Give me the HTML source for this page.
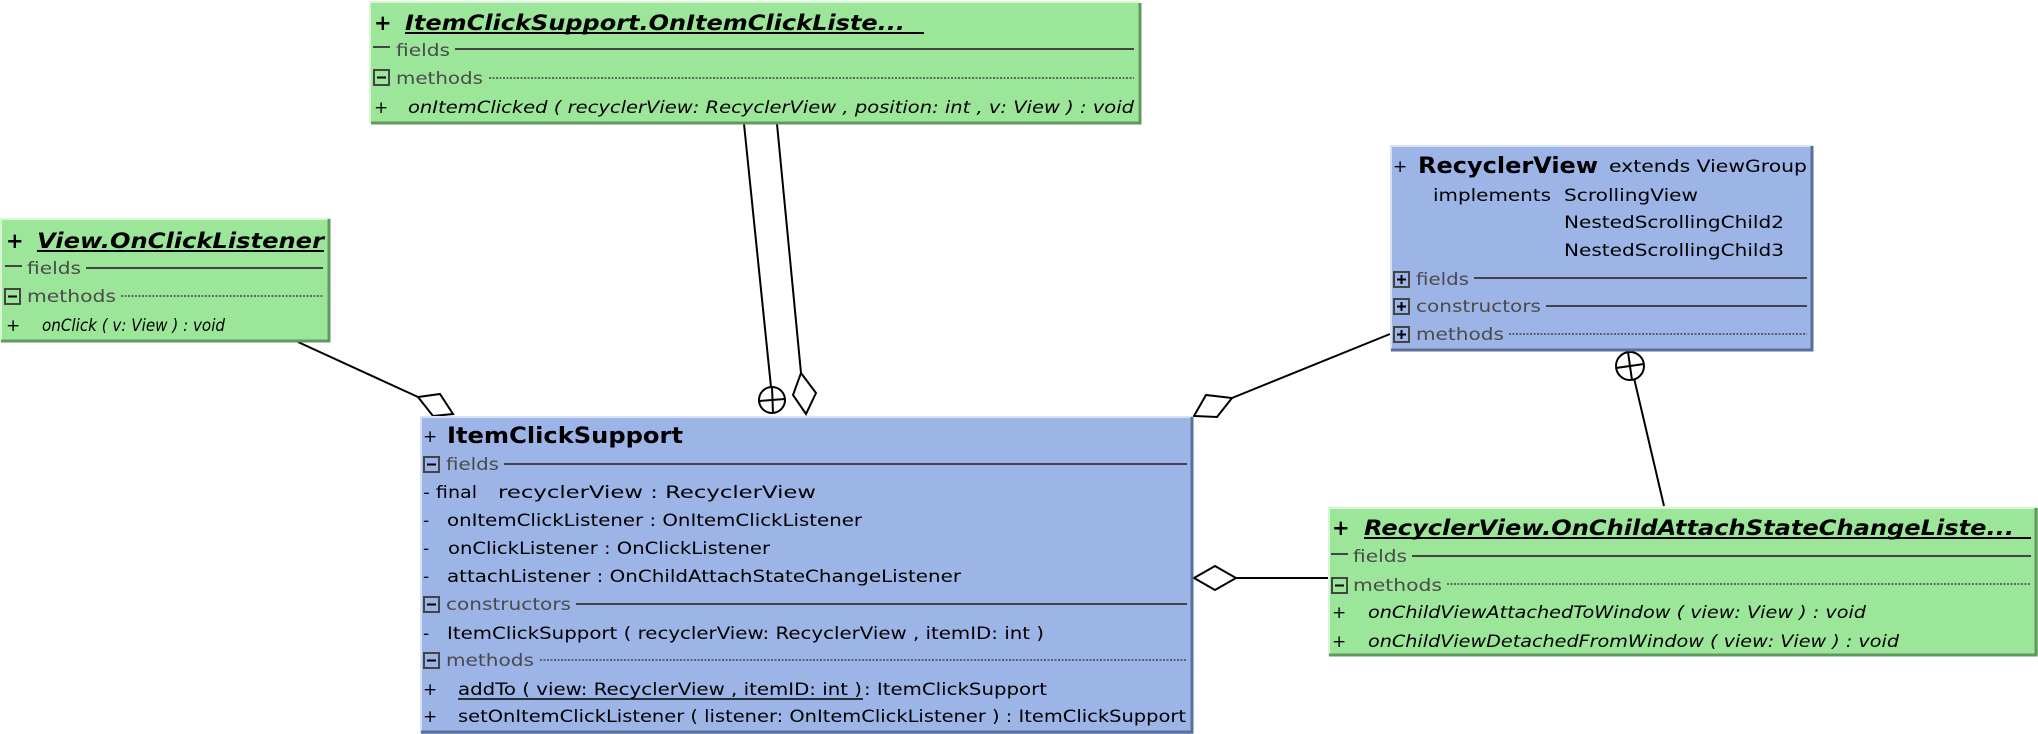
<!DOCTYPE html>
<html><head><meta charset="utf-8"><style>
html,body{margin:0;padding:0;background:#fff;}
svg{display:block;}
text{font-family:"DejaVu Sans","Liberation Sans",sans-serif;font-size:17px;fill:#000;}
.t{font-weight:bold;font-size:22px;}
.ti{font-weight:bold;font-style:italic;font-size:21px;}
.i{font-style:italic;}
.g{fill:#4a4a4a;}
</style></head><body>
<svg width="2038" height="734" viewBox="0 0 2038 734" xmlns="http://www.w3.org/2000/svg">
<!-- connectors -->
<g stroke="#000" stroke-width="2" fill="#fff">
<line x1="298" y1="342" x2="418" y2="397"/>
<polygon points="418,397 440,394 453,414 433,416"/>
<line x1="744" y1="124" x2="771" y2="387"/>
<circle cx="772" cy="400" r="13"/>
<line x1="759" y1="401" x2="785" y2="399"/>
<line x1="772" y1="387" x2="773" y2="413"/>
<line x1="777" y1="124" x2="801" y2="373"/>
<polygon points="801,373 816,393 806,414 793,395"/>
<line x1="1390" y1="334" x2="1232" y2="398"/>
<polygon points="1232,398 1217,417 1194,416 1206,395"/>
<line x1="1664" y1="506" x2="1634" y2="378"/>
<circle cx="1630" cy="366" r="14"/>
<line x1="1616" y1="368" x2="1644" y2="364"/>
<line x1="1628" y1="352" x2="1632" y2="380"/>
<line x1="1328" y1="578" x2="1236" y2="578"/>
<polygon points="1236,578 1215,566 1194,578 1215,590"/>
</g>

<!-- OnItemClickListener box -->
<rect x="370" y="2" width="770" height="121" fill="#9ce69a"/>
<path d="M370,123 V2 H1140" stroke="#d8f5d6" stroke-width="2" fill="none"/>
<path d="M371,123 H1140 V3" stroke="#5f995d" stroke-width="3" fill="none"/>
<text x="374" y="30" class="ti">+</text>
<text x="405" y="30" class="ti" textLength="500" lengthAdjust="spacingAndGlyphs">ItemClickSupport.OnItemClickListe...</text>
<line x1="405" y1="33" x2="924" y2="33" stroke="#000" stroke-width="2"/>
<line x1="373" y1="47" x2="390" y2="47" stroke="#444" stroke-width="2"/>
<text x="396" y="56" class="g" textLength="54" lengthAdjust="spacingAndGlyphs">fields</text>
<line x1="455" y1="49" x2="1134" y2="49" stroke="#444" stroke-width="2"/>
<rect x="374" y="70" width="15" height="15" fill="none" stroke="#444" stroke-width="2"/><line x1="377" y1="77.5" x2="386" y2="77.5" stroke="#000" stroke-width="2"/>
<text x="396" y="84" class="g" textLength="87" lengthAdjust="spacingAndGlyphs">methods</text>
<line x1="489" y1="78" x2="1134" y2="78" stroke="#444" stroke-width="1.5" stroke-dasharray="2,1.5"/>
<text x="374" y="113" class="i">+</text>
<text x="408" y="113" class="i" textLength="726" lengthAdjust="spacingAndGlyphs">onItemClicked ( recyclerView: RecyclerView ,  position: int ,  v: View ) : void</text>

<!-- View.OnClickListener -->
<rect x="0" y="219" width="330" height="123" fill="#9ce69a"/>
<path d="M1,342 V219 H330" stroke="#d8f5d6" stroke-width="2" fill="none"/>
<path d="M1,341 H329 V219" stroke="#5f995d" stroke-width="3" fill="none"/>
<text x="6" y="248" class="ti">+</text>
<text x="37" y="248" class="ti" textLength="287" lengthAdjust="spacingAndGlyphs">View.OnClickListener</text>
<line x1="37" y1="251" x2="324" y2="251" stroke="#000" stroke-width="2"/>
<line x1="5" y1="266" x2="22" y2="266" stroke="#444" stroke-width="2"/>
<text x="27" y="274" class="g" textLength="54" lengthAdjust="spacingAndGlyphs">fields</text>
<line x1="86" y1="268" x2="323" y2="268" stroke="#444" stroke-width="2"/>
<rect x="5" y="289" width="15" height="15" fill="none" stroke="#444" stroke-width="2"/><line x1="8" y1="296.5" x2="17" y2="296.5" stroke="#000" stroke-width="2"/>
<text x="27" y="302" class="g" textLength="89" lengthAdjust="spacingAndGlyphs">methods</text>
<line x1="121" y1="296" x2="323" y2="296" stroke="#444" stroke-width="1.5" stroke-dasharray="2,1.5"/>
<text x="6" y="331" class="i">+</text>
<text x="42" y="331" class="i" textLength="183" lengthAdjust="spacingAndGlyphs">onClick ( v: View ) : void</text>

<!-- ItemClickSupport -->
<rect x="420" y="416" width="773" height="318" fill="#9db4e6"/>
<path d="M421,734 V417 H1193" stroke="#d6e0f6" stroke-width="2" fill="none"/>
<path d="M421,732 H1192 V417" stroke="#5b6f99" stroke-width="3" fill="none"/>
<text x="423" y="442">+</text>
<text x="447" y="443" class="t" textLength="236" lengthAdjust="spacingAndGlyphs">ItemClickSupport</text>
<rect x="424" y="457" width="15" height="15" fill="none" stroke="#444" stroke-width="2"/><line x1="427" y1="464.5" x2="436" y2="464.5" stroke="#000" stroke-width="2"/>
<text x="446" y="470" class="g" textLength="53" lengthAdjust="spacingAndGlyphs">fields</text>
<line x1="504" y1="464" x2="1187" y2="464" stroke="#444" stroke-width="2"/>
<text x="423" y="498" textLength="54" lengthAdjust="spacingAndGlyphs">- final</text>
<text x="498" y="498" textLength="318" lengthAdjust="spacingAndGlyphs">recyclerView : RecyclerView</text>
<text x="423" y="526">-</text>
<text x="447" y="526" textLength="415" lengthAdjust="spacingAndGlyphs">onItemClickListener : OnItemClickListener</text>
<text x="423" y="554">-</text>
<text x="448" y="554" textLength="322" lengthAdjust="spacingAndGlyphs">onClickListener : OnClickListener</text>
<text x="423" y="582">-</text>
<text x="447" y="582" textLength="514" lengthAdjust="spacingAndGlyphs">attachListener : OnChildAttachStateChangeListener</text>
<rect x="424" y="597" width="15" height="15" fill="none" stroke="#444" stroke-width="2"/><line x1="427" y1="604.5" x2="436" y2="604.5" stroke="#000" stroke-width="2"/>
<text x="446" y="610" class="g" textLength="125" lengthAdjust="spacingAndGlyphs">constructors</text>
<line x1="576" y1="604" x2="1187" y2="604" stroke="#444" stroke-width="2"/>
<text x="423" y="639">-</text>
<text x="447" y="639" textLength="597" lengthAdjust="spacingAndGlyphs">ItemClickSupport ( recyclerView: RecyclerView ,  itemID: int )</text>
<rect x="424" y="653" width="15" height="15" fill="none" stroke="#444" stroke-width="2"/><line x1="427" y1="660.5" x2="436" y2="660.5" stroke="#000" stroke-width="2"/>
<text x="446" y="666" class="g" textLength="88" lengthAdjust="spacingAndGlyphs">methods</text>
<line x1="540" y1="660" x2="1187" y2="660" stroke="#444" stroke-width="1.5" stroke-dasharray="2,1.5"/>
<text x="423" y="695">+</text>
<text x="458" y="695" textLength="404" lengthAdjust="spacingAndGlyphs">addTo ( view: RecyclerView ,  itemID: int )</text>
<line x1="458" y1="699" x2="863" y2="699" stroke="#000" stroke-width="1.5"/>
<text x="864" y="695" textLength="183" lengthAdjust="spacingAndGlyphs">: ItemClickSupport</text>
<text x="423" y="722">+</text>
<text x="458" y="722" textLength="728" lengthAdjust="spacingAndGlyphs">setOnItemClickListener ( listener: OnItemClickListener ) : ItemClickSupport</text>

<!-- RecyclerView -->
<rect x="1390" y="145" width="423" height="206" fill="#9db4e6"/>
<path d="M1391,351 V146 H1813" stroke="#d6e0f6" stroke-width="2" fill="none"/>
<path d="M1391,350 H1812 V146" stroke="#5b6f99" stroke-width="3" fill="none"/>
<text x="1393" y="172">+</text>
<text x="1418" y="173" class="t" textLength="180" lengthAdjust="spacingAndGlyphs">RecyclerView</text>
<text x="1609" y="172" textLength="198" lengthAdjust="spacingAndGlyphs">extends  ViewGroup</text>
<text x="1433" y="201" textLength="118" lengthAdjust="spacingAndGlyphs">implements</text>
<text x="1564" y="201" textLength="134" lengthAdjust="spacingAndGlyphs">ScrollingView</text>
<text x="1564" y="228" textLength="220" lengthAdjust="spacingAndGlyphs">NestedScrollingChild2</text>
<text x="1564" y="256" textLength="220" lengthAdjust="spacingAndGlyphs">NestedScrollingChild3</text>
<g stroke="#444" stroke-width="2" fill="none">
<rect x="1394" y="272" width="15" height="15"/><rect x="1394" y="299" width="15" height="15"/><rect x="1394" y="327" width="15" height="15"/>
</g>
<g stroke="#000" stroke-width="2">
<line x1="1397" y1="279.5" x2="1406" y2="279.5"/><line x1="1401.5" y1="275" x2="1401.5" y2="284"/>
<line x1="1397" y1="306.5" x2="1406" y2="306.5"/><line x1="1401.5" y1="302" x2="1401.5" y2="311"/>
<line x1="1397" y1="334.5" x2="1406" y2="334.5"/><line x1="1401.5" y1="330" x2="1401.5" y2="339"/>
</g>
<text x="1416" y="285" class="g" textLength="53" lengthAdjust="spacingAndGlyphs">fields</text>
<line x1="1474" y1="278" x2="1807" y2="278" stroke="#444" stroke-width="2"/>
<text x="1416" y="312" class="g" textLength="125" lengthAdjust="spacingAndGlyphs">constructors</text>
<line x1="1546" y1="306" x2="1807" y2="306" stroke="#444" stroke-width="2"/>
<text x="1416" y="340" class="g" textLength="88" lengthAdjust="spacingAndGlyphs">methods</text>
<line x1="1509" y1="334" x2="1807" y2="334" stroke="#444" stroke-width="1.5" stroke-dasharray="2,1.5"/>

<!-- OnChildAttachStateChangeListener -->
<rect x="1328" y="507" width="710" height="149" fill="#9ce69a"/>
<path d="M1329,656 V508 H2038" stroke="#d8f5d6" stroke-width="2" fill="none"/>
<path d="M1329,655 H2036 V508" stroke="#5f995d" stroke-width="3" fill="none"/>
<text x="1332" y="535" class="ti">+</text>
<text x="1364" y="535" class="ti" textLength="650" lengthAdjust="spacingAndGlyphs">RecyclerView.OnChildAttachStateChangeListe...</text>
<line x1="1364" y1="538" x2="2031" y2="538" stroke="#000" stroke-width="2"/>
<line x1="1331" y1="554" x2="1348" y2="554" stroke="#444" stroke-width="2"/>
<text x="1353" y="562" class="g" textLength="54" lengthAdjust="spacingAndGlyphs">fields</text>
<line x1="1412" y1="556" x2="2031" y2="556" stroke="#444" stroke-width="2"/>
<rect x="1332" y="578" width="15" height="15" fill="none" stroke="#444" stroke-width="2"/><line x1="1335" y1="585.5" x2="1344" y2="585.5" stroke="#000" stroke-width="2"/>
<text x="1353" y="591" class="g" textLength="89" lengthAdjust="spacingAndGlyphs">methods</text>
<line x1="1447" y1="584" x2="2031" y2="584" stroke="#444" stroke-width="1.5" stroke-dasharray="2,1.5"/>
<text x="1332" y="618" class="i">+</text>
<text x="1368" y="618" class="i" textLength="498" lengthAdjust="spacingAndGlyphs">onChildViewAttachedToWindow ( view: View ) : void</text>
<text x="1332" y="647" class="i">+</text>
<text x="1368" y="647" class="i" textLength="531" lengthAdjust="spacingAndGlyphs">onChildViewDetachedFromWindow ( view: View ) : void</text>
</svg>
</body></html>
